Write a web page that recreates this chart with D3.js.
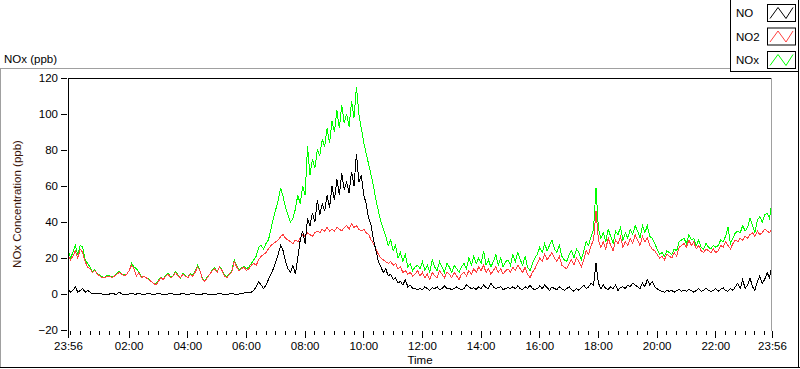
<!DOCTYPE html>
<html>
<head>
<meta charset="utf-8">
<script src="https://cdn.jsdelivr.net/npm/d3@7/dist/d3.min.js"></script>
<style>
  html, body { margin: 0; padding: 0; background: #fff; }
  svg { display: block; font-family: "Liberation Sans", Arial, sans-serif; }
</style>
</head>
<body>
<div id="chart"></div>
<script>
// series names / colours (legend order)
const seriesNames = ['NO', 'NO2', 'NOx'];
const seriesColors = ['#000000', '#ff4040', '#00ff00'];

const yTicks = [-20, 0, 20, 40, 60, 80, 100, 120];
const xMajorLabels = ['23:56', '02:00', '04:00', '06:00', '08:00', '10:00', '12:00',
  '14:00', '16:00', '18:00', '20:00', '22:00', '23:56'];

// samples every 5 minutes, from 23:56 to 23:56 next day
const startTime = new Date(2020, 0, 1, 23, 56);
const stepMinutes = 5;

const noValues = [
  3, 1, 2, 4, 1, 2, 3, 1, 2, 1, 0, 0.5,
  0, 0.5, 0, 0, -0.5, 0, 0.5, 0, 0, 1, 0, 0,
  0, 0, 0.5, 0, 0, 0.5, 0, 0, 0, 0.5, 0, 0,
  0, 0.5, 0, 0, 0, 0, 0.5, 0, 0, 0, 0, 0.5,
  0, 0, 0, 0.5, 0, 0, 0, 0, 0.5, 0, 0, 0,
  0, 0, 0.5, 0, 0, 0, 0, 0.5, 0, 0, 0, 0.5,
  0.5, 1, 0.5, 1, 2, 4, 7, 5, 3, 5, 8, 11,
  14, 18, 22, 27, 24, 18, 14, 12, 16, 11, 20, 30,
  35, 28, 42, 38, 45, 40, 52, 44, 50, 46, 55, 48,
  60, 52, 64, 55, 67, 58, 62, 56, 68, 60, 78, 62,
  66, 55, 50, 42, 38, 30, 24, 18, 15, 12, 14, 10,
  11, 8, 9, 6, 7, 5, 8, 4, 5, 3, 3, 2.5,
  3, 2.5, 4, 3, 2, 3.5, 3, 4, 2.5, 3, 4.5, 3,
  3, 2.5, 3, 4, 3, 2.5, 3, 5, 4, 3, 3.5, 2.5,
  4, 3, 5, 3.5, 3, 6, 4, 3, 3.5, 4, 2.5, 3,
  3.5, 3, 4, 3, 4.5, 3, 2.5, 4, 3, 5, 3, 2.5,
  3, 4.5, 3, 5, 3.5, 2, 4, 3, 2.5, 4, 3, 2,
  3, 4, 2.5, 1.5, 3, 2, 3.5, 5, 3, 4, 6, 5,
  17, 6, 3, 5, 3, 2.5, 4, 3, 5, 2, 3.5, 4,
  3, 5, 4, 6, 5, 4, 3, 6, 4, 8, 5, 7,
  4, 3, 2, 1.5, 1, 2, 1.5, 2, 1, 2, 2.5, 1.5,
  2, 1.5, 2.5, 2, 1, 2, 3, 1.5, 2, 3.5, 2, 1.5,
  2, 3, 1.5, 2.5, 3.5, 2, 1.5, 3, 2, 4, 6, 3,
  8, 3, 5, 9, 4, 2, 7, 10, 6, 8, 12, 9,
  16
];

const no2Values = [
  22, 19, 21, 24, 20, 25, 23, 18, 15, 14, 12, 13,
  11, 10, 9, 9, 10, 10, 9, 10, 11, 12, 11, 10,
  11, 13, 16, 14, 10, 12, 9, 10, 9, 8, 7, 6,
  5, 7, 9, 8, 10, 11, 9, 10, 12, 10, 9, 11,
  10, 9, 11, 10, 12, 15, 13, 8, 7, 9, 11, 13,
  14, 12, 15, 13, 10, 9, 11, 12, 18, 15, 13, 14,
  15, 13, 14, 16, 17, 16, 19, 21, 22, 23, 25, 27,
  28, 29, 30, 32, 33, 31, 30, 29, 28, 30, 29, 31,
  33, 32, 34, 33, 32, 34, 35, 34, 36, 35, 37, 35,
  36, 35, 37, 36, 35, 37, 38, 36, 39, 37, 38, 36,
  35, 36, 34, 33, 30, 28, 25, 22, 20, 19, 18, 17,
  18, 16, 17, 14, 15, 12, 13, 11, 12, 10, 11, 13,
  10, 12, 9, 11, 8, 12, 10, 9, 13, 11, 9, 12,
  11, 9, 12, 10, 8, 11, 12, 10, 13, 11, 14, 12,
  15, 13, 16, 12, 14, 11, 13, 15, 12, 14, 11, 13,
  14, 12, 15, 13, 16, 14, 12, 15, 11, 9, 12, 14,
  17, 20, 18, 22, 19, 21, 23, 20, 18, 21, 16, 15,
  14, 17, 19, 16, 20, 18, 15, 19, 24, 22, 27, 30,
  46, 30, 26, 29, 25, 31, 27, 24, 30, 28, 32, 26,
  29, 27, 31, 28, 33, 30, 27, 32, 29, 31, 27, 25,
  24, 22, 20, 21, 19, 22, 21, 20, 23, 21, 26, 27,
  28, 26, 30, 27, 29, 25, 27, 24, 23, 25, 24, 23,
  25, 23, 24, 27, 26, 29, 27, 25, 28, 30, 29, 31,
  30, 32, 31, 33, 34, 32, 35, 33, 34, 36, 35, 34,
  36
];

const noxValues = [
  25, 20, 23, 27, 22, 27, 26, 19, 17, 15, 12, 13.5,
  11, 10.5, 9.5, 9, 10.5, 10, 9.5, 10, 11.5, 12.5, 11, 10.5,
  11, 13, 17, 15, 14, 12, 9.5, 10, 9, 8.5, 7, 6,
  5.5, 7.5, 9.5, 8, 10.5, 11.5, 9.5, 10, 12.5, 10.5, 9, 11.5,
  10.5, 9, 11.5, 10.5, 12.5, 16, 13, 8.5, 7.5, 9.5, 11, 13.5,
  14.5, 12.5, 15, 13.5, 10.5, 9.5, 11.5, 12.5, 19, 15.5, 13.5, 14.5,
  15.5, 14, 15, 17, 19, 21, 26, 27, 25, 28, 30, 36,
  42, 47, 52, 59, 54, 48, 44, 40, 42, 47, 55, 50,
  60, 55, 82, 66, 75, 70, 80, 77, 86, 82, 92, 84,
  96, 90, 102, 92, 105, 95, 100, 93, 107, 98, 115, 100,
  92, 84, 78, 72, 66, 60, 52, 46, 40, 36, 32, 27,
  30, 24, 27, 20, 23, 18, 22, 15, 17, 13, 15, 16,
  14, 18, 13, 16, 12, 19, 15, 13, 18, 15, 12, 17,
  15, 12, 16, 14, 12, 15, 17, 14, 20, 16, 21, 17,
  20, 17, 24, 16, 19, 15, 18, 22, 16, 20, 15, 18,
  19, 16, 22, 18, 23, 19, 16, 21, 15, 13, 17, 20,
  22, 26, 23, 28, 24, 27, 30, 25, 23, 27, 21, 19,
  18, 22, 24, 20, 25, 23, 19, 24, 29, 27, 32, 36,
  59, 36, 31, 34, 29, 36, 32, 28, 35, 33, 37, 30,
  34, 31, 36, 33, 38, 35, 31, 38, 34, 38, 32, 31,
  28, 25, 22, 23, 21, 24, 23, 22, 25, 24, 29, 30,
  31, 28, 33, 30, 31, 27, 30, 26, 25, 28, 26, 25,
  27, 26, 27, 30, 29, 32, 37, 28, 31, 34, 35, 34,
  38, 35, 37, 42, 38, 34, 41, 43, 40, 44, 45, 42,
  52
];

const width = 800;
const height = 369;
const plot = { left: 68, right: 772, top: 78, bottom: 330 };

const svg = d3.select('#chart')
  .append('svg')
  .attr('width', width)
  .attr('height', height);

const endTime = d3.timeMinute.offset(startTime, 24 * 60);
const timeAt = i => d3.timeMinute.offset(startTime, i * stepMinutes);

const x = d3.scaleTime()
  .domain([startTime, endTime])
  .range([plot.left, plot.right]);

const y = d3.scaleLinear()
  .domain([-20, 120])
  .range([plot.bottom, plot.top]);

// outer panel frame
svg.append('line').attr('x1', 0).attr('x2', 731).attr('y1', 68.5).attr('y2', 68.5)
  .attr('stroke', '#a0a0a0');
svg.append('line').attr('x1', 0.5).attr('x2', 0.5).attr('y1', 68).attr('y2', 368)
  .attr('stroke', '#a0a0a0');
svg.append('line').attr('x1', 0).attr('x2', 800).attr('y1', 367.5).attr('y2', 367.5)
  .attr('stroke', '#000');
svg.append('line').attr('x1', 798.5).attr('x2', 798.5).attr('y1', 71).attr('y2', 368)
  .attr('stroke', '#000');

// panel title
svg.append('text')
  .attr('x', 4)
  .attr('y', 63)
  .style('font-size', '11.5px')
  .attr('fill', '#000')
  .text('NOx (ppb)');

// plot area
svg.append('defs').append('clipPath').attr('id', 'clip')
  .append('rect')
  .attr('x', plot.left + 1).attr('y', plot.top + 1)
  .attr('width', plot.right - plot.left - 1).attr('height', plot.bottom - plot.top - 1);

// series lines (NOx under NO2 under NO)
const lineGen = values => d3.line()
  .x((d, i) => x(timeAt(i)))
  .y(d => y(d))(values);

const seriesValues = [noValues, no2Values, noxValues];
const drawOrder = [2, 1, 0];
const linesG = svg.append('g').attr('clip-path', 'url(#clip)');
drawOrder.forEach(k => {
  linesG.append('path')
    .attr('d', lineGen(seriesValues[k]))
    .attr('fill', 'none')
    .attr('stroke', seriesColors[k])
    .attr('stroke-width', 1)
    .attr('shape-rendering', 'crispEdges');
});

// plot frame: dark top/left, grey right
svg.append('line').attr('x1', plot.left).attr('x2', plot.right).attr('y1', plot.top + 0.5).attr('y2', plot.top + 0.5)
  .attr('stroke', '#000');
svg.append('line').attr('x1', plot.left + 0.5).attr('x2', plot.left + 0.5).attr('y1', plot.top).attr('y2', plot.bottom + 1)
  .attr('stroke', '#000');
svg.append('line').attr('x1', plot.right - 0.5).attr('x2', plot.right - 0.5).attr('y1', plot.top).attr('y2', plot.bottom + 1)
  .attr('stroke', '#a0a0a0');

// y axis
const yAxis = d3.axisLeft(y).tickValues(yTicks).tickSize(6).tickPadding(3);
const yG = svg.append('g')
  .attr('transform', `translate(${plot.left - 1},0)`)
  .call(yAxis);
yG.select('.domain').remove();
yG.selectAll('text').style('font-size', '11.5px').attr('fill', '#000').style('font-family', null);

// x axis: both ends plus every 2 h (02:00..22:00), minor every 20 min
const majorTicks = [startTime];
d3.timeHour.every(2).range(startTime, endTime)
  .filter(d => d.getHours() !== 0)
  .forEach(d => majorTicks.push(d));
majorTicks.push(endTime);
const majorSet = new Set(majorTicks.map(d => +d));
const minorTicks = d3.timeMinute.every(20).range(startTime, endTime)
  .filter(d => !majorSet.has(+d));

const xMinor = d3.axisBottom(x).tickValues(minorTicks).tickSize(4).tickFormat('');
const xMinorG = svg.append('g')
  .attr('transform', `translate(0,${plot.bottom + 1})`)
  .call(xMinor);
xMinorG.select('.domain').remove();

const xMajor = d3.axisBottom(x)
  .tickValues(majorTicks)
  .tickSize(7)
  .tickPadding(4)
  .tickFormat((d, i) => xMajorLabels[i]);
const xG = svg.append('g')
  .attr('transform', `translate(0,${plot.bottom + 1})`)
  .call(xMajor);
xG.select('.domain').remove();
xG.selectAll('text').style('font-size', '11.5px').attr('fill', '#000').style('font-family', null);
svg.selectAll('.tick line').attr('stroke', '#000').attr('shape-rendering', 'crispEdges');

// axis titles
svg.append('text')
  .attr('x', (plot.left + plot.right) / 2)
  .attr('y', 364)
  .attr('text-anchor', 'middle')
  .style('font-size', '11.5px')
  .text('Time');

svg.append('text')
  .attr('transform', `translate(21,${(plot.top + plot.bottom) / 2}) rotate(-90)`)
  .attr('text-anchor', 'middle')
  .style('font-size', '11.5px')
  .attr('fill', '#3a1408')
  .text('NOx Concentration (ppb)');

// legend
const legend = svg.append('g').attr('class', 'legend');
legend.append('rect')
  .attr('x', 730.5).attr('y', -1)
  .attr('width', 68).attr('height', 72.5)
  .attr('fill', '#fff')
  .attr('stroke', '#000');

const items = legend.selectAll('.legend-item')
  .data(seriesNames)
  .enter()
  .append('g')
  .attr('class', 'legend-item')
  .attr('transform', (d, i) => `translate(0, ${4.5 + i * 23.5})`);

items.append('text')
  .attr('x', 736)
  .attr('y', 8.5)
  .attr('dy', '0.35em')
  .style('font-size', '11.5px')
  .attr('fill', '#000')
  .text(d => d);

items.append('rect')
  .attr('x', 767.5).attr('y', 0)
  .attr('width', 28).attr('height', 17)
  .attr('fill', '#fff')
  .attr('stroke', '#000');

items.append('polyline')
  .attr('points', '770,14 778,3 786,14 793,3')
  .attr('fill', 'none')
  .attr('stroke', (d, i) => seriesColors[i]);
</script>
</body>
</html>
